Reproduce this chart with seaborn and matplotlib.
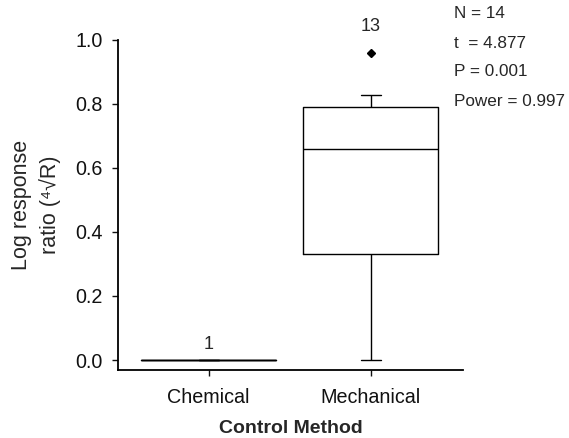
import matplotlib
matplotlib.use("Agg")
import matplotlib.pyplot as plt
import seaborn as sns
import pandas as pd

# Data
categories = ["Chemical", "Mechanical"]
chemical_values = [0.0]
mechanical_values = [0.0, 0.0, 0.0, 0.331, 0.45, 0.56, 0.659, 0.70, 0.75, 0.79, 0.828, 0.828, 0.959]
count_labels = ["1", "13"]
count_label_y = [0.05, 1.042]
stats_lines = ["N = 14", "t  = 4.877", "P = 0.001", "Power = 0.997"]
y_ticks = [0.0, 0.2, 0.4, 0.6, 0.8, 1.0]

df = pd.DataFrame({
    "method": ["Chemical"] * len(chemical_values) + ["Mechanical"] * len(mechanical_values),
    "value": chemical_values + mechanical_values,
})

sns.set_style("ticks")
plt.rcParams["font.family"] = ["Liberation Sans", "DejaVu Sans"]

fig = plt.figure(figsize=(5.69, 4.38), dpi=100)
ax = fig.add_axes([0.2074, 0.1553, 0.6063, 0.7545])

sns.boxplot(data=df, x="method", y="value", order=categories, ax=ax,
            width=0.83, whis=(10, 90), fill=False, color="black",
            linewidth=1.0, capwidths=0.125,
            flierprops=dict(marker="D", markerfacecolor="black",
                            markeredgecolor="black", markersize=4.5))

ax.set_xlim(-0.56, 1.57)
ax.set_ylim(-0.031, 1.0)
ax.set_yticks(y_ticks)
ax.set_yticklabels([f"{t:.1f}" for t in y_ticks])
ax.tick_params(axis="both", labelsize=14.2, length=4, width=1.0, colors="#111111")
ax.tick_params(axis="y", pad=7)
ax.tick_params(axis="x", pad=9)
for s in ["top", "right"]:
    ax.spines[s].set_visible(False)
for s in ["left", "bottom"]:
    ax.spines[s].set_linewidth(1.3)
    ax.spines[s].set_color("black")

ax.set_xlabel("Control Method", fontsize=14, fontweight="bold", labelpad=9)
ax.set_ylabel("Log response\nratio (\u2074\u221aR)", fontsize=15.5, labelpad=10.5,
              linespacing=1.4)

for i, (lab, yv) in enumerate(zip(count_labels, count_label_y)):
    ax.text(i, yv, lab, ha="center", va="center", fontsize=13, clip_on=False)

for k, line in enumerate(stats_lines):
    fig.text(454 / 569, 1 - (14 + 29 * k) / 438, line, ha="left", va="center", fontsize=12.3)

fig.savefig("out.png", dpi=100)
